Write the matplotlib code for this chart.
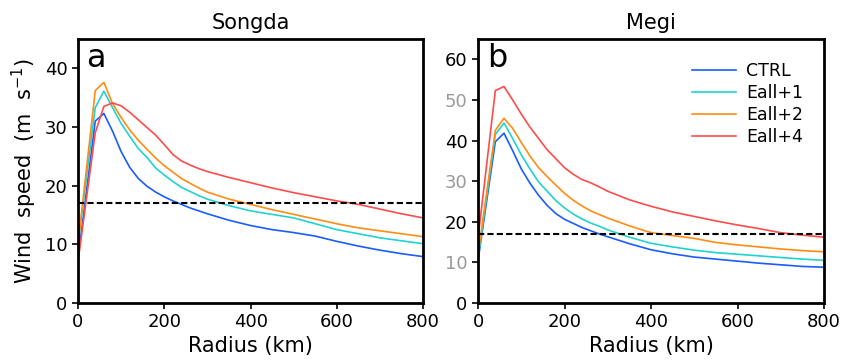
import numpy as np
import matplotlib.pyplot as plt

plt.rcParams.update({'font.size': 13, 'font.family': 'DejaVu Sans'})

radius = [0, 40, 60, 80, 100, 120, 140, 160, 180, 200, 220, 240, 260, 280, 300,
          350, 400, 450, 500, 550, 600, 650, 700, 750, 800]

# Songda
songda = {
    "CTRL":   [7.5, 31.0, 32.3, 29.3, 25.8, 23.1, 21.2, 19.9, 18.9, 18.1, 17.4, 16.8, 16.2,
               15.7, 15.2, 14.1, 13.2, 12.5, 12.0, 11.4, 10.5, 9.7, 9.0, 8.4, 7.9],
    "Eall+1": [10.0, 33.3, 36.1, 33.3, 30.6, 28.4, 26.3, 24.8, 23.0, 21.8, 20.7, 19.7, 19.0,
               18.3, 17.7, 16.6, 15.7, 15.1, 14.5, 13.5, 12.5, 11.8, 11.1, 10.6, 10.1],
    "Eall+2": [10.0, 36.2, 37.6, 34.0, 31.6, 29.5, 27.7, 26.2, 24.7, 23.4, 22.3, 21.2, 20.4,
               19.6, 18.9, 17.7, 16.8, 15.9, 15.1, 14.3, 13.5, 12.8, 12.3, 11.8, 11.3],
    "Eall+4": [7.0, 29.0, 33.5, 34.1, 33.6, 32.5, 31.2, 29.9, 28.6, 27.0, 25.3, 24.2, 23.5,
               22.9, 22.4, 21.4, 20.5, 19.6, 18.8, 18.1, 17.4, 16.8, 16.0, 15.2, 14.5],
}

# Megi
megi = {
    "CTRL":   [10.5, 39.7, 41.8, 37.5, 33.0, 29.5, 26.5, 24.0, 22.0, 20.6, 19.6, 18.6, 17.8,
               17.0, 16.3, 14.6, 13.1, 12.1, 11.3, 10.8, 10.3, 9.8, 9.4, 9.0, 8.8],
    "Eall+1": [11.0, 41.5, 44.3, 40.5, 36.5, 33.0, 29.8, 27.5, 25.2, 23.4, 21.9, 20.7, 19.7,
               18.9, 18.0, 16.2, 14.7, 13.8, 13.0, 12.4, 12.0, 11.6, 11.2, 10.8, 10.5],
    "Eall+2": [12.0, 42.5, 45.5, 43.0, 39.5, 36.2, 33.3, 31.1, 29.0, 27.0, 25.3, 23.9, 22.7,
               21.8, 20.9, 19.0, 17.3, 16.6, 15.9, 14.9, 14.3, 13.8, 13.3, 12.9, 12.6],
    "Eall+4": [16.0, 52.3, 53.3, 50.0, 46.5, 43.3, 40.5, 37.7, 35.5, 33.3, 31.7, 30.4, 29.6,
               28.6, 27.5, 25.4, 23.8, 22.4, 21.3, 20.2, 19.2, 18.3, 17.3, 16.7, 16.2],
}

colors = {"CTRL": "#1a5cff", "Eall+1": "#1fd3d0", "Eall+2": "#ff8c14", "Eall+4": "#ff4b4b"}
threshold = 17

fig = plt.figure(figsize=(8.44, 3.64), dpi=100)
ax1 = fig.add_axes([0.0924, 0.1676, 0.409, 0.7254])
ax2 = fig.add_axes([0.5664, 0.1676, 0.41, 0.7254])

panels = [(ax1, songda, "Songda", "a", 45, 10), (ax2, megi, "Megi", "b", 65, 10)]
for ax, data, title, letter, ytop, ystep in panels:
    for label in data:
        ax.plot(radius, data[label], color=colors[label], lw=1.2, label=label)
    ax.axhline(threshold, color='black', ls='--', lw=1.5, dashes=(3, 1.5))
    ax.set_xlim(0, 800)
    ax.set_ylim(0, ytop)
    ax.set_xticks([0, 200, 400, 600, 800])
    ax.set_yticks(np.arange(0, ytop, ystep))
    ax.set_title(title, fontsize=15, pad=7)
    ax.set_xlabel('Radius (km)', fontsize=15, labelpad=3)
    ax.text(0.025, 0.985, letter, transform=ax.transAxes, fontsize=23,
            va='top', ha='left')
    for s in ax.spines.values():
        s.set_linewidth(2)
    ax.tick_params(width=1.2, length=4, labelsize=13)

ax1.set_ylabel(r'Wind  speed  (m  s$^{-1}$)', fontsize=15)
for t in ax2.get_yticklabels():
    if t.get_text() in ('10', '30', '50'):
        t.set_color('#999999')

ax2.legend(loc='upper right', frameon=False, fontsize=12.5, handlelength=2.5,
           handletextpad=0.6, labelspacing=0.22, bbox_to_anchor=(0.985, 0.97))

fig.savefig('out.png', dpi=100)
